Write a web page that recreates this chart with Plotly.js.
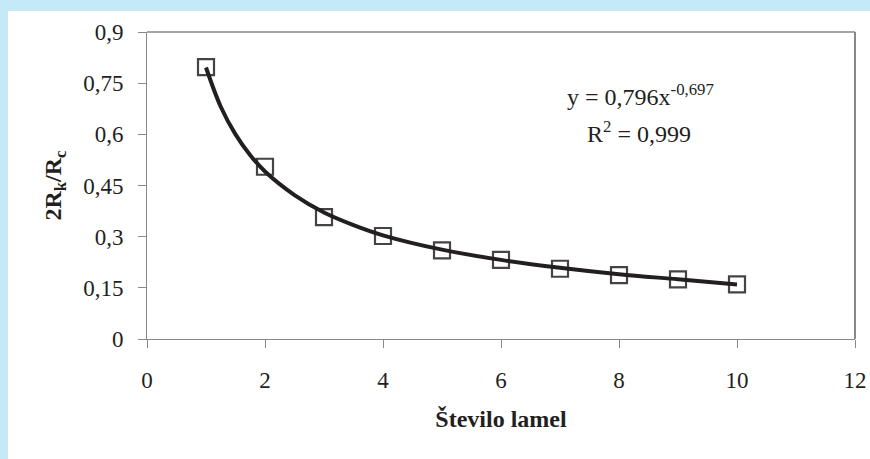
<!DOCTYPE html>
<html>
<head>
<meta charset="utf-8">
<script src="https://cdn.plot.ly/plotly-3.0.1.min.js"></script>
<style>
  html, body { margin: 0; padding: 0; background: #c6e9f8; width: 870px; height: 459px; overflow: hidden; }
  #chart { position: absolute; left: 8px; top: 11px; width: 862px; height: 448px; background: #ffffff; }
</style>
</head>
<body>
<div id="chart"></div>
<script>
// Measured points (Število lamel vs 2Rk/Rc)
var lamelCount = [1, 2, 3, 4, 5, 6, 7, 8, 9, 10];
var ratioValues = [0.797, 0.505, 0.357, 0.302, 0.260, 0.232, 0.206, 0.187, 0.175, 0.160];

// Power trendline
var trendX = [1, 1.25, 1.5, 1.75, 2, 2.5, 3, 3.5, 4, 5, 6, 7, 8, 9, 10];
var trendY = [0.796, 0.681, 0.600, 0.539, 0.491, 0.422, 0.371, 0.334, 0.304, 0.262, 0.232, 0.209, 0.190, 0.175, 0.160];

var xTicks = [0, 2, 4, 6, 8, 10, 12];
var yTicks = [0, 0.15, 0.3, 0.45, 0.6, 0.75, 0.9];
var yTickLabels = ['0', '0,15', '0,3', '0,45', '0,6', '0,75', '0,9'];

var equationText = 'y = 0,796x<sup>-0,697</sup>';
var r2Text = 'R<sup>2</sup> = 0,999';
var xTitle = 'Število lamel';
var yTitle = '2R<sub>k</sub>/R<sub>c</sub>';

var serif = 'Liberation Serif, Times New Roman, serif';
var ink = '#231f20';
var axisGray = '#888888';

var traces = [
  {
    x: lamelCount, y: ratioValues, type: 'scatter', mode: 'markers',
    marker: { symbol: 'square-open', size: 16, color: '#444444', line: { width: 2.2, color: '#444444' } },
    hoverinfo: 'x+y', showlegend: false
  },
  {
    x: trendX, y: trendY, type: 'scatter', mode: 'lines',
    line: { color: ink, width: 4, shape: 'spline', smoothing: 1 },
    hoverinfo: 'skip', showlegend: false
  }
];

var layout = {
  width: 862, height: 448,
  paper_bgcolor: '#ffffff', plot_bgcolor: '#ffffff',
  margin: { l: 139, r: 15, t: 21, b: 120 },
  separators: ', ',
  showlegend: false,
  font: { family: serif, color: ink, size: 22 },
  xaxis: {
    range: [0, 12], tickvals: xTicks, ticktext: xTicks.map(String),
    showgrid: false, zeroline: false,
    showline: true, linecolor: axisGray, linewidth: 1,
    ticks: 'outside', ticklen: 8, tickcolor: axisGray, tickwidth: 1,
    ticklabelstandoff: 12,
    tickfont: { family: serif, size: 23, color: ink },
    title: { text: '<b>' + xTitle + '</b>', font: { family: serif, size: 24, color: ink }, standoff: 18 }
  },
  yaxis: {
    range: [0, 0.9], tickvals: yTicks, ticktext: yTickLabels,
    showgrid: false, zeroline: false,
    showline: true, linecolor: axisGray, linewidth: 1,
    ticks: 'outside', ticklen: 8, tickcolor: axisGray, tickwidth: 1,
    ticklabelstandoff: 10,
    tickfont: { family: serif, size: 23, color: ink },
    title: { text: '<b>' + yTitle + '</b>', font: { family: serif, size: 24, color: ink }, standoff: 14 }
  },
  shapes: [
    { type: 'line', xref: 'paper', yref: 'paper', x0: 0, x1: 1, y0: 1, y1: 1, line: { color: axisGray, width: 1.5 } },
    { type: 'line', xref: 'paper', yref: 'paper', x0: 1, x1: 1, y0: 0, y1: 1, line: { color: axisGray, width: 2 } }
  ],
  annotations: [
    { xref: 'x', yref: 'y', x: 8.36, y: 0.716, text: equationText, showarrow: false,
      xanchor: 'center', yanchor: 'middle', font: { family: serif, size: 24, color: ink } },
    { xref: 'x', yref: 'y', x: 8.34, y: 0.608, text: r2Text, showarrow: false,
      xanchor: 'center', yanchor: 'middle', font: { family: serif, size: 24, color: ink } }
  ]
};

Plotly.newPlot('chart', traces, layout, { displayModeBar: false, staticPlot: true });
</script>
</body>
</html>
